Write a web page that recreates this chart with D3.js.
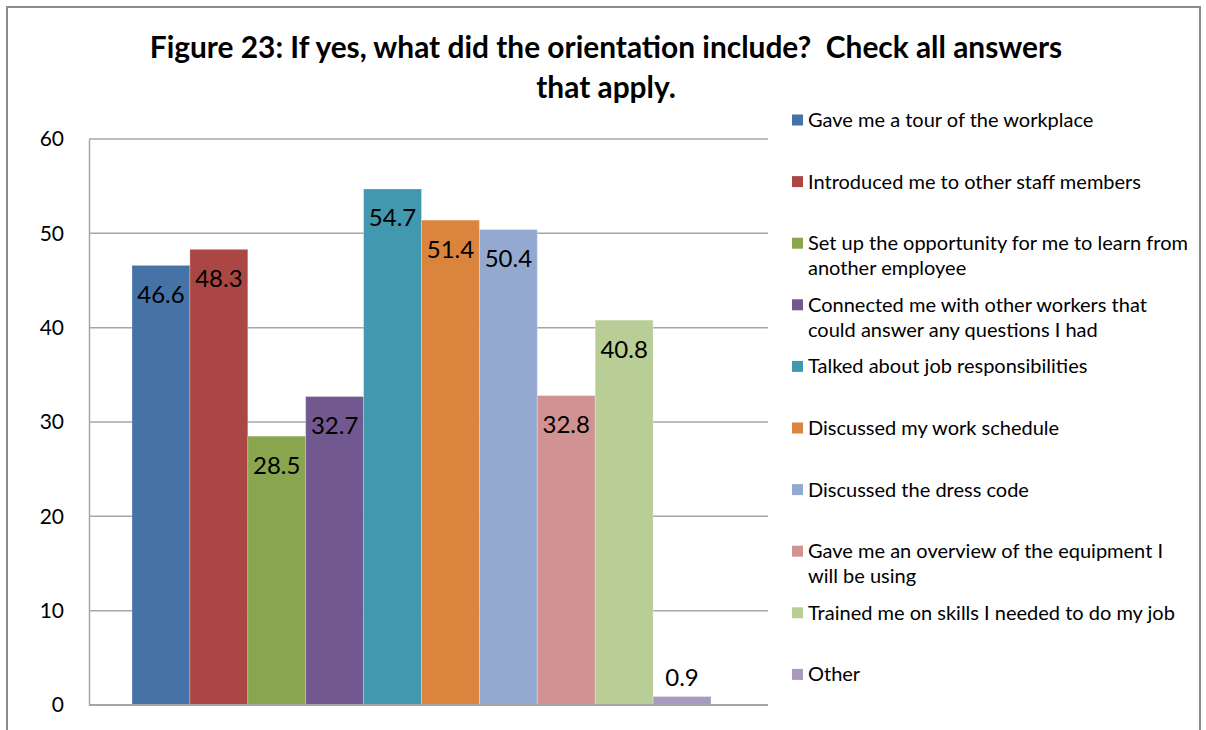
<!DOCTYPE html>
<html>
<head>
<meta charset="utf-8">
<script src="https://cdn.jsdelivr.net/npm/d3@7"></script>
<style>
  body { margin: 0; background: #fff; }
  text { font-family: Lato, "Open Sans", sans-serif; fill: #000; white-space: pre; }
</style>
</head>
<body>
<div class="chart"></div>
<script>
// Chart values
var categories = [
  "Gave me a tour of the workplace",
  "Introduced me to other staff members",
  "Set up the opportunity for me to learn from another employee",
  "Connected me with other workers that could answer any questions I had",
  "Talked about job responsibilities",
  "Discussed my work schedule",
  "Discussed the dress code",
  "Gave me an overview of the equipment I will be using",
  "Trained me on skills I needed to do my job",
  "Other"
];
var values = [46.6, 48.3, 28.5, 32.7, 54.7, 51.4, 50.4, 32.8, 40.8, 0.9];
var colors = ["#4572A7", "#AA4643", "#89A54E", "#71588F", "#4198AF",
              "#DB843D", "#93A9CF", "#D19392", "#B9CD96", "#A99BBD"];
var yTicks = [0, 10, 20, 30, 40, 50, 60];
var titleLines = ["Figure 23: If yes, what did the orientation include?  Check all answers",
                  "that apply."];

var svgWidth = 1206, svgHeight = 730;
var plot = {left: 89, right: 768, top: 139, bottom: 705};

var svg = d3.select(".chart")
  .append("svg")
  .attr("width", svgWidth)
  .attr("height", svgHeight);

// outer chart border
svg.append("rect")
  .attr("x", 7).attr("y", 7)
  .attr("width", 1193).attr("height", 740)
  .attr("fill", "none")
  .attr("stroke", "#8c8c8c")
  .attr("stroke-width", 2);

// scales
var y = d3.scaleLinear().domain([0, 60]).range([plot.bottom, plot.top]);
var x = d3.scaleBand().domain(categories).range([plot.left + 43, plot.right - 57]);

// gridlines
svg.append("g")
  .selectAll("line")
  .data(yTicks.slice(1))
  .enter()
  .append("line")
  .attr("x1", plot.left).attr("x2", plot.right)
  .attr("y1", function(d) { return y(d); })
  .attr("y2", function(d) { return y(d); })
  .attr("stroke", "#a6a6a6")
  .attr("stroke-width", 1.5);

// y axis
var leftAxis = d3.axisLeft(y).tickValues(yTicks).tickSize(0).tickPadding(25);
var yAxis = svg.append("g")
  .attr("transform", "translate(" + plot.left + ",0)")
  .call(leftAxis);
yAxis.select(".domain").attr("stroke", "#a6a6a6").attr("stroke-width", 1.5);
yAxis.selectAll("text")
  .style("font-family", "Lato, sans-serif")
  .style("font-size", "21px")
  .attr("fill", "#000");

// bars
svg.append("g")
  .selectAll("rect")
  .data(values)
  .enter()
  .append("rect")
  .attr("x", function(d, i) { return x(categories[i]); })
  .attr("y", function(d) { return y(d); })
  .attr("width", x.bandwidth())
  .attr("height", function(d) { return y(0) - y(d); })
  .attr("fill", function(d, i) { return colors[i]; })
  .attr("stroke", "rgba(255,255,255,0.25)")
  .attr("stroke-width", 1);

// bottom axis line
svg.append("line")
  .attr("x1", plot.left).attr("x2", plot.right)
  .attr("y1", y(0)).attr("y2", y(0))
  .attr("stroke", "#a6a6a6")
  .attr("stroke-width", 2);

// data labels, inside end (above when bar too short)
svg.append("g")
  .selectAll("text")
  .data(values)
  .enter()
  .append("text")
  .attr("x", function(d, i) { return x(categories[i]) + x.bandwidth() / 2; })
  .attr("y", function(d) {
    var h = y(0) - y(d);
    return h > 40 ? y(d) + 29 : y(d) - 19;
  })
  .attr("dy", "0.35em")
  .attr("text-anchor", "middle")
  .style("font-size", "24px")
  .text(function(d) { return d.toFixed(1); });

// title
var title = svg.append("g")
  .selectAll("text")
  .data(titleLines)
  .enter()
  .append("text")
  .attr("x", 606)
  .attr("y", function(d, i) { return 48 + i * 40; })
  .attr("dy", "0.35em")
  .attr("text-anchor", "middle")
  .style("font-weight", "bold")
  .style("font-size", "30px")
  .text(function(d) { return d; });
// fit first line to the reference width
var tw = title.nodes()[0].getComputedTextLength();
title.style("font-size", (30 * 913 / tw) + "px");

// legend
var legend = svg.append("g").attr("transform", "translate(791,0)");
var probe = legend.append("text").style("font-size", "20px")
  .text("Set up the opportunity for me to learn from");
var legendSize = 20 * 380 / probe.node().getComputedTextLength();
probe.remove();

function wrap(str, maxW) {
  var words = str.split(" "), lines = [], line = [];
  var t = legend.append("text").style("font-size", legendSize + "px");
  words.forEach(function(w) {
    line.push(w);
    t.text(line.join(" "));
    if (t.node().getComputedTextLength() > maxW && line.length > 1) {
      line.pop();
      lines.push(line.join(" "));
      line = [w];
    }
  });
  lines.push(line.join(" "));
  t.remove();
  return lines;
}

categories.forEach(function(c, i) {
  var cy = 120 + i * 61.6;
  legend.append("rect")
    .attr("x", 1).attr("y", cy - 5.5)
    .attr("width", 11).attr("height", 11)
    .attr("fill", colors[i]);
  var lines = wrap(c, 388);
  legend.append("g")
    .selectAll("text")
    .data(lines)
    .enter()
    .append("text")
    .attr("x", 17)
    .attr("y", function(d, j) { return cy + j * 25; })
    .attr("dy", "0.35em")
    .style("font-size", legendSize + "px")
    .text(function(d) { return d; });
});
</script>
</body>
</html>
